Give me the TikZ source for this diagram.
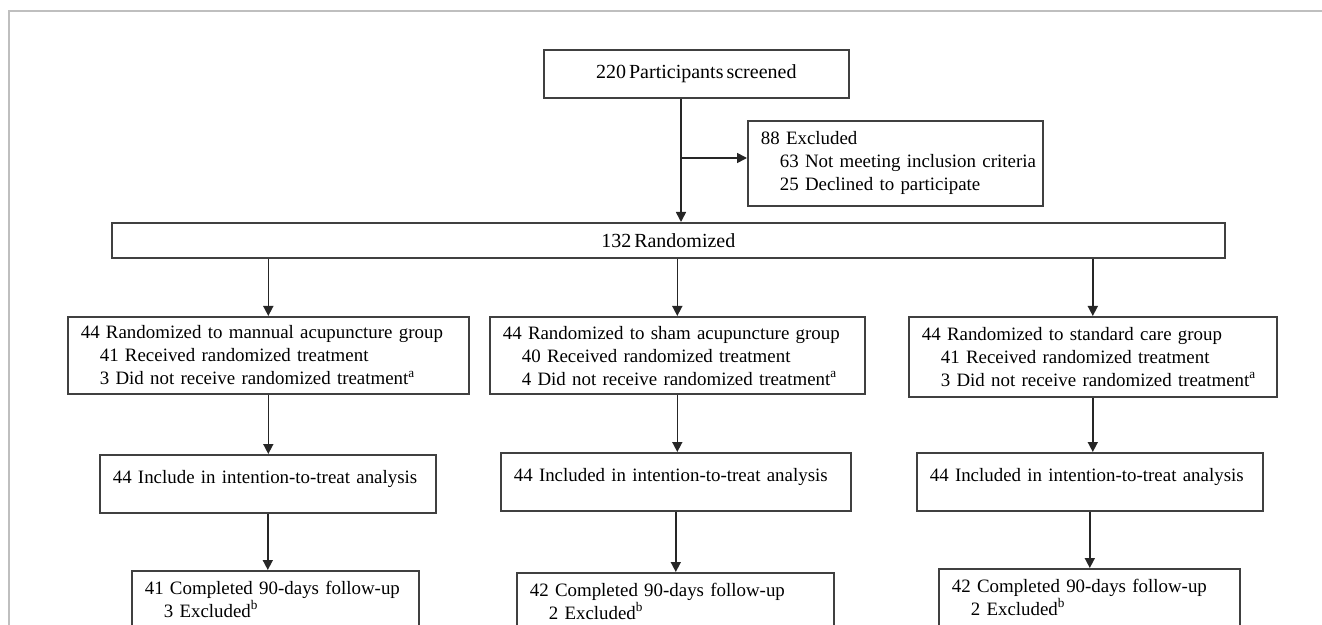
\documentclass[tikz,border=0pt]{standalone}
\usepackage{fontspec}
\setmainfont[WordSpace=0.6]{Liberation Serif}
\usepackage{tikz}
\usetikzlibrary{positioning,calc,arrows.meta}
\newcommand{\headline}[1]{\mbox{#1}}
\newcommand{\subline}[1]{\mbox{\hspace*{9.5pt}#1}}
\tikzset{
  flowpic/.style={
    x=0.5pt,y=-0.5pt
    ,font=\fontsize{9.45}{11.5}\selectfont
    ,>={Triangle[length=5pt,width=5pt]}
  }
  ,flowbox/.style={draw=black!75,line width=.8pt,anchor=north west
    ,inner xsep=6.5pt,inner ysep=0pt,align=left}
  ,cbox/.style={flowbox,align=center,font=\fontsize{10}{11.5}\selectfont}
  ,ittbox/.style={flowbox,text height=14.5pt,text depth=14.5pt}
  ,flowarrow/.style={->,line width=.8pt,draw=black!85}
  ,pageframe/.style={draw=black!25,line width=1pt}
}

\begin{document}
\begin{tikzpicture}[flowpic]
    \useasboundingbox (0,0) rectangle (1322,625);
    \clip (0,0) rectangle (1322,625);
    \draw[pageframe] (9,625) -- (9,11) -- (1322,11);

    % screening
    \node[cbox,minimum width=152.5pt,minimum height=24pt] (screen) at (543,49)
      {220 Participants screened};
    \node[flowbox,text width=134.5pt,minimum height=42.5pt] (excl) at (747,120)
      {\headline{88 Excluded}\\ \subline{63 Not meeting inclusion criteria}\\
       \subline{25 Declined to participate}};
    \node[cbox,minimum width=556.5pt,minimum height=17.5pt] (rand) at (111,222)
      {132 Randomized};

    % groups
    \node[flowbox,text width=187.5pt,minimum height=38.5pt] (grp1) at (67,316)
      {\headline{44 Randomized to mannual acupuncture group}\\
       \subline{41 Received randomized treatment}\\
       \subline{3 Did not receive randomized treatment\textsuperscript{a}}};
    \node[flowbox,text width=174.5pt,minimum height=38.75pt] (grp2) at (489,316)
      {\headline{44 Randomized to sham acupuncture group}\\
       \subline{40 Received randomized treatment}\\
       \subline{4 Did not receive randomized treatment\textsuperscript{a}}};
    \node[flowbox,text width=171pt,minimum height=40pt] (grp3) at (908,316)
      {\headline{44 Randomized to standard care group}\\
       \subline{41 Received randomized treatment}\\
       \subline{3 Did not receive randomized treatment\textsuperscript{a}}};

    % analysis
    \node[ittbox,text width=155pt] (itt1) at (99,454)
      {\headline{44 Include in intention-to-treat analysis}};
    \node[ittbox,text width=162pt] (itt2) at (500,452)
      {\headline{44 Included in intention-to-treat analysis}};
    \node[ittbox,text width=160pt] (itt3) at (916,452)
      {\headline{44 Included in intention-to-treat analysis}};

    % follow-up, cut by the page
    \node[flowbox,text width=130.5pt,minimum height=40pt] (fin1) at (131,570)
      {\headline{41 Completed 90-days follow-up}\\
       \subline{3 Excluded\textsuperscript{b}}\\ ~};
    \node[flowbox,text width=145.5pt,minimum height=40pt] (fin2) at (516,572)
      {\headline{42 Completed 90-days follow-up}\\
       \subline{2 Excluded\textsuperscript{b}}\\ ~};
    \node[flowbox,text width=137.5pt,minimum height=40pt] (fin3) at (938,568)
      {\headline{42 Completed 90-days follow-up}\\
       \subline{2 Excluded\textsuperscript{b}}\\ ~};

    \coordinate (split) at (681,158);
    \draw[flowarrow] (split |- screen.south) -- (split |- rand.north);
    \draw[flowarrow] (split) -- (excl.west |- split);

    \draw[flowarrow] (grp1.north |- rand.south) -- (grp1.north);
    \draw[flowarrow] (grp2.north |- rand.south) -- (grp2.north);
    \draw[flowarrow] (grp3.north |- rand.south) -- (grp3.north);
    \draw[flowarrow] (grp1.south) -- (grp1.south |- itt1.north);
    \draw[flowarrow] (grp2.south) -- (grp2.south |- itt2.north);
    \draw[flowarrow] (grp3.south) -- (grp3.south |- itt3.north);
    \draw[flowarrow] (itt1.south) -- (itt1.south |- fin1.north);
    \draw[flowarrow] (itt2.south) -- (itt2.south |- fin2.north);
    \draw[flowarrow] (itt3.south) -- (itt3.south |- fin3.north);
\end{tikzpicture}
\end{document}
